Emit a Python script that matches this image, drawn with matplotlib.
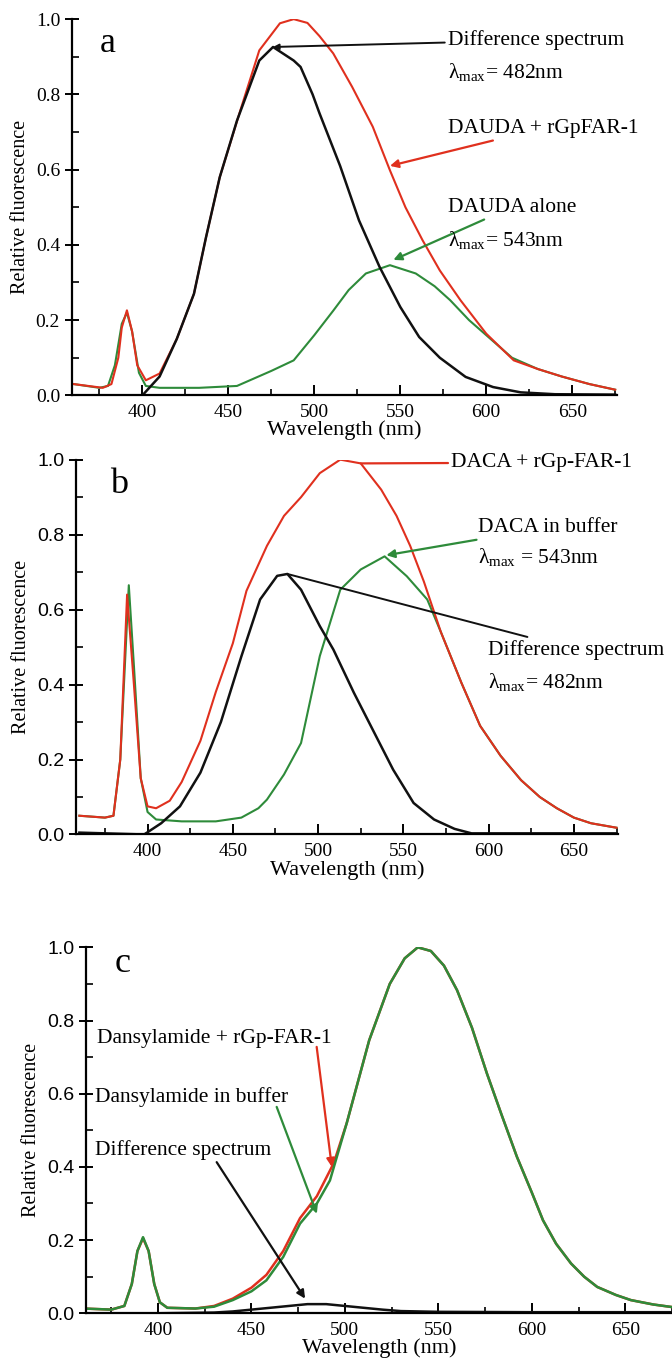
import matplotlib
matplotlib.use("Agg")
import matplotlib.pyplot as plt
from matplotlib.ticker import MultipleLocator

plt.rcParams['font.family'] = 'Liberation Serif'
plt.rcParams['mathtext.fontset'] = 'custom'
plt.rcParams['mathtext.rm'] = 'Liberation Serif'
plt.rcParams['mathtext.it'] = 'Liberation Serif:italic'

RED = '#e0301e'
GREEN = '#2e8b3a'
BLACK = '#111111'

# ---- panel a: DAUDA ----
a_green_wl = [360, 375, 380, 384, 388, 391, 394, 398, 402, 410, 433, 455, 465, 475, 488, 500, 511,
              520, 530, 544, 559, 570, 579, 590, 600, 615, 630, 644, 660, 675]
a_green = [0.03, 0.02, 0.025, 0.08, 0.19, 0.22, 0.17, 0.06, 0.025, 0.02, 0.02, 0.025, 0.045, 0.065,
           0.093, 0.16, 0.225, 0.28, 0.324, 0.346, 0.324, 0.29, 0.253, 0.20, 0.16, 0.10, 0.07, 0.05,
           0.03, 0.015]
a_red_wl = [360, 377, 382, 386, 388, 391, 394, 397, 402, 410, 420, 430, 437, 445, 457, 468, 480, 488,
            496, 503, 511, 522, 534, 544, 553, 563, 573, 585, 600, 616, 630, 644, 660, 675]
a_red = [0.03, 0.02, 0.03, 0.1, 0.18, 0.226, 0.17, 0.08, 0.04, 0.058, 0.15, 0.27, 0.42, 0.58, 0.758,
         0.917, 0.989, 1.0, 0.99, 0.955, 0.909, 0.82, 0.714, 0.598, 0.50, 0.412, 0.332, 0.253, 0.164,
         0.093, 0.07, 0.05, 0.03, 0.015]
a_black_wl = [360, 390, 400, 410, 420, 430, 437, 445, 455, 468, 476, 488, 492, 499, 503, 515, 526,
              538, 550, 561, 573, 588, 604, 620, 640, 675]
a_black = [-0.005, -0.003, 0.0, 0.05, 0.15, 0.27, 0.42, 0.58, 0.73, 0.89, 0.926, 0.89, 0.873, 0.80,
           0.75, 0.61, 0.465, 0.341, 0.235, 0.155, 0.10, 0.049, 0.022, 0.008, 0.003, 0.002]

# ---- panel b: DACA ----
b_green_wl = [360, 375, 380, 384, 389, 392, 396, 400, 405, 420, 440, 455, 465, 470, 480, 490, 501,
              513, 525, 539, 552, 564, 572, 584, 595, 607, 619, 630, 640, 650, 660, 675]
b_green = [0.05, 0.045, 0.05, 0.2, 0.665, 0.45, 0.15, 0.06, 0.04, 0.035, 0.035, 0.045, 0.07, 0.093,
           0.16, 0.244, 0.476, 0.653, 0.707, 0.742, 0.689, 0.627, 0.54, 0.405, 0.29, 0.21, 0.145, 0.10,
           0.07, 0.045, 0.03, 0.018]
b_red_wl = [360, 375, 380, 384, 388, 392, 396, 400, 405, 413, 420, 431, 440, 450, 458, 470, 480, 490,
            501, 513, 525, 537, 546, 554, 562, 572, 584, 595, 607, 619, 630, 640, 650, 660, 675]
b_red = [0.05, 0.045, 0.05, 0.2, 0.64, 0.4, 0.15, 0.075, 0.07, 0.09, 0.14, 0.25, 0.38, 0.51, 0.65,
         0.77, 0.85, 0.90, 0.964, 1.0, 0.99, 0.92, 0.85, 0.77, 0.675, 0.54, 0.405, 0.29, 0.21, 0.145,
         0.10, 0.07, 0.045, 0.03, 0.018]
b_black_wl = [360, 398, 408, 419, 431, 443, 455, 466, 476, 482, 490, 501, 509, 521, 533, 544, 556,
              568, 580, 590, 675]
b_black = [0.005, 0.0, 0.03, 0.075, 0.165, 0.3, 0.475, 0.627, 0.69, 0.695, 0.653, 0.556, 0.493,
           0.378, 0.271, 0.173, 0.084, 0.04, 0.015, 0.003, 0.003]

# ---- panel c: dansylamide ----
c_green_wl = [360, 375, 382, 386, 389, 392, 395, 398, 401, 405, 420, 430, 440, 450, 458, 467, 476,
              485, 492, 501, 513, 524, 532, 539, 546, 553, 560, 568, 576, 584, 592, 600, 606, 613, 621,
              628, 635, 645, 653, 665, 675]
c_green = [0.013, 0.01, 0.02, 0.08, 0.17, 0.208, 0.17, 0.08, 0.03, 0.015, 0.013, 0.018, 0.036, 0.06,
           0.09, 0.154, 0.245, 0.30, 0.363, 0.52, 0.746, 0.90, 0.97, 1.0, 0.99, 0.95, 0.883, 0.78,
           0.655, 0.54, 0.428, 0.33, 0.254, 0.19, 0.136, 0.10, 0.072, 0.05, 0.036, 0.024, 0.017]
c_red_wl = [360, 375, 382, 386, 389, 392, 395, 398, 401, 405, 420, 430, 440, 450, 458, 467, 476, 485,
            494, 501, 513, 524, 532, 539, 546, 553, 560, 568, 576, 584, 592, 600, 606, 613, 621, 628,
            635, 645, 653, 665, 675]
c_red = [0.013, 0.01, 0.02, 0.08, 0.17, 0.205, 0.17, 0.08, 0.03, 0.015, 0.013, 0.02, 0.04, 0.07,
         0.105, 0.17, 0.26, 0.32, 0.41, 0.52, 0.746, 0.90, 0.97, 1.0, 0.99, 0.95, 0.883, 0.78, 0.655,
         0.54, 0.428, 0.33, 0.254, 0.19, 0.136, 0.10, 0.072, 0.05, 0.036, 0.024, 0.017]
c_black_wl = [360, 400, 430, 440, 460, 470, 480, 490, 500, 510, 520, 530, 550, 600, 675]
c_black = [0.0, 0.0, 0.002, 0.005, 0.015, 0.02, 0.025, 0.025, 0.02, 0.015, 0.01, 0.006, 0.004, 0.003,
           0.003]

fig = plt.figure(figsize=(6.72, 13.68), dpi=100)
ax_a = fig.add_axes([0.107, 0.711, 0.811, 0.275])
ax_b = fig.add_axes([0.113, 0.390, 0.807, 0.274])
ax_c = fig.add_axes([0.128, 0.040, 0.872, 0.2675])


def style(ax, xlim, sans_y):
    ax.set_xlim(*xlim)
    ax.set_ylim(0, 1.0)
    for s in ['top', 'right']:
        ax.spines[s].set_visible(False)
    for s in ['left', 'bottom']:
        ax.spines[s].set_linewidth(1.6)
    ax.xaxis.set_minor_locator(MultipleLocator(25))
    ax.yaxis.set_minor_locator(MultipleLocator(0.1))
    ax.set_xticks([400, 450, 500, 550, 600, 650])
    ax.tick_params(axis='x', which='major', direction='in', length=7, width=1.4, labelsize=14, pad=6)
    ax.tick_params(axis='x', which='minor', direction='in', length=4, width=1.2)
    ax.tick_params(axis='y', which='major', direction='inout', length=10, width=1.4, labelsize=14)
    ax.tick_params(axis='y', which='minor', direction='in', length=5, width=1.2)
    ax.set_yticks([0, 0.2, 0.4, 0.6, 0.8, 1.0])
    ax.set_yticklabels(['0.0', '0.2', '0.4', '0.6', '0.8', '1.0'],
                       family='Liberation Sans' if sans_y else 'Liberation Serif')
    ax.set_xlabel('Wavelength (nm)', fontsize=16, labelpad=0)
    ax.set_ylabel('Relative fluorescence', fontsize=14.5, labelpad=4)


lw = 1.5
tk = dict(fontsize=15.5, ha='left', va='center')

# panel a
ax_a.plot(a_green_wl, a_green, color=GREEN, lw=lw)
ax_a.plot(a_red_wl, a_red, color=RED, lw=lw)
ax_a.plot(a_black_wl, a_black, color=BLACK, lw=lw + 0.3)
style(ax_a, (359, 676), False)
ax_a.text(380, 0.935, 'a', fontsize=26, ha='center', va='center')
ax_a.annotate('Difference spectrum', xy=(476, 0.926), xytext=(577.5, 0.944),
              arrowprops=dict(arrowstyle='-|>', color=BLACK, lw=1.4, mutation_scale=8,
                              shrinkA=0, shrinkB=0), **tk)
ax_a.text(577.5, 0.859, r'$\mathrm{\lambda_{max}}$= 482nm', **tk)
ax_a.annotate('DAUDA + rGpFAR-1', xy=(544, 0.61), xytext=(577.5, 0.71),
              arrowprops=dict(arrowstyle='-|>', color=RED, lw=1.6, mutation_scale=12,
                              shrinkA=0, shrinkB=0), **tk)
ax_a.annotate('DAUDA alone', xy=(546, 0.36), xytext=(577.5, 0.50),
              arrowprops=dict(arrowstyle='-|>', color=GREEN, lw=1.6, mutation_scale=12,
                              shrinkA=0, shrinkB=0), **tk)
ax_a.text(577.5, 0.412, r'$\mathrm{\lambda_{max}}$= 543nm', **tk)

# panel b
ax_b.plot(b_green_wl, b_green, color=GREEN, lw=lw)
ax_b.plot(b_red_wl, b_red, color=RED, lw=lw)
ax_b.plot(b_black_wl, b_black, color=BLACK, lw=lw + 0.3)
style(ax_b, (358, 676), True)
ax_b.text(383, 0.935, 'b', fontsize=26, ha='center', va='center')
ax_b.annotate('DACA + rGp-FAR-1', xy=(525, 0.99), xytext=(577.8, 0.992),
              arrowprops=dict(arrowstyle='-', color=RED, lw=1.6, shrinkA=0, shrinkB=0), **tk)
ax_b.annotate('DACA in buffer', xy=(540, 0.745), xytext=(594, 0.819),
              arrowprops=dict(arrowstyle='-|>', color=GREEN, lw=1.6, mutation_scale=12,
                              shrinkA=0, shrinkB=0), **tk)
ax_b.text(594, 0.739, r'$\mathrm{\lambda_{max}}$ = 543nm', **tk)
ax_b.annotate('Difference spectrum', xy=(482, 0.695), xytext=(599.5, 0.493),
              arrowprops=dict(arrowstyle='-', color=BLACK, lw=1.4, shrinkA=0, shrinkB=0), **tk)
ax_b.text(599.5, 0.408, r'$\mathrm{\lambda_{max}}$= 482nm', **tk)

# panel c
ax_c.plot(c_red_wl, c_red, color=RED, lw=lw + 0.3)
ax_c.plot(c_green_wl, c_green, color=GREEN, lw=lw + 0.3)
ax_c.plot(c_black_wl, c_black, color=BLACK, lw=lw + 0.3)
style(ax_c, (361.5, 675), True)
ax_c.text(381, 0.955, 'c', fontsize=26, ha='center', va='center')
ax_c.text(367.3, 0.751, 'Dansylamide + rGp-FAR-1', **tk)
ax_c.text(366.3, 0.59, 'Dansylamide in buffer', **tk)
ax_c.text(366.3, 0.445, 'Difference spectrum', **tk)
ax_c.annotate('', xy=(493, 0.40), xytext=(484.9, 0.728),
              arrowprops=dict(arrowstyle='-|>', color=RED, lw=1.6, mutation_scale=12,
                              shrinkA=0, shrinkB=0))
ax_c.annotate('', xy=(485, 0.272), xytext=(463.5, 0.564),
              arrowprops=dict(arrowstyle='-|>', color=GREEN, lw=1.6, mutation_scale=12,
                              shrinkA=0, shrinkB=0))
ax_c.annotate('', xy=(478.7, 0.04), xytext=(431.4, 0.413),
              arrowprops=dict(arrowstyle='-|>', color=BLACK, lw=1.6, mutation_scale=12,
                              shrinkA=0, shrinkB=0))
for ax in (ax_a, ax_b, ax_c):
    for t in ax.texts:
        t.set_clip_on(False)

fig.savefig('out.png', dpi=100)
